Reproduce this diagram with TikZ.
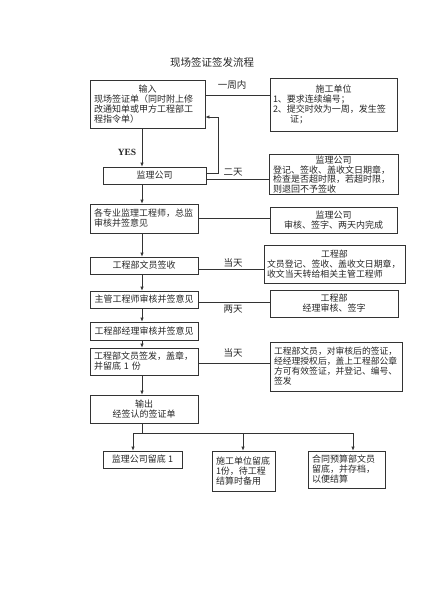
\documentclass[tikz,border=0pt]{standalone}
\usepackage{fontspec}
\setmainfont{Noto Sans CJK SC}
\newfontfamily\latinserif{Liberation Serif}
\usetikzlibrary{arrows.meta,calc}
\newcommand\ctr[1]{\hfill#1\hfill\null}
\begin{document}
\begin{tikzpicture}[x=1pt,y=-1pt,
 box/.style={draw=black!80,line width=.6pt,inner sep=2pt,font=\fontsize{9}{10}\selectfont,text=black!85},
 lbox/.style={box,inner xsep=4pt,align=left},
 arr/.style={-{Latex[length=4pt,width=3.2pt]},line width=.6pt,draw=black!80},
 ln/.style={line width=.6pt,draw=black!80},
 lab/.style={font=\fontsize{9.5}{11}\selectfont,text=black!85}]
\useasboundingbox (0,0) rectangle (424,600);

\node[font=\fontsize{10.5}{12}\selectfont,text=black!85] (title) at (212,62) {现场签证签发流程};

% left column
\node[lbox,minimum width=115pt,minimum height=48pt,text width=107pt] (in) at (147.5,104)
  {\ctr{输入}\\现场签证单（同时附上修\\改通知单或甲方工程部工\\程指令单）};
\node[box,minimum width=103pt,minimum height=17pt,align=center] (jl1) at (154.5,175.5) {监理公司};
\node[lbox,minimum width=108pt,minimum height=29pt,text width=100pt] (zj) at (144,218.5)
  {各专业监理工程师，总监\\审核并签意见};
\node[box,minimum width=108pt,minimum height=17pt,align=center] (wy) at (144,265.5) {工程部文员签收};
\node[box,minimum width=108pt,minimum height=17pt,align=center] (zg) at (144,299.5) {主管工程师审核并签意见};
\node[box,minimum width=108pt,minimum height=18pt,align=center] (jl) at (144,331) {工程部经理审核并签意见};
\node[lbox,minimum width=108pt,minimum height=27pt,text width=100pt] (qf) at (144,361.5)
  {工程部文员签发，盖章，\\并留底 1 份};
\node[box,minimum width=108pt,minimum height=28pt,align=center] (out) at (144,409) {输出\\经签认的签证单};

% right column
\node[lbox,inner xsep=3pt,minimum width=127pt,minimum height=53pt,text width=121pt] (sg) at (333.5,104.5)
  {\ctr{施工单位}\\1、要求连续编号；\\2、提交时效为一周，发生签\\\hspace*{1.9em}证；};
\node[lbox,minimum width=129pt,minimum height=39pt,text width=121pt,inner ysep=1.5pt,font=\fontsize{9}{9.4}\selectfont] (jl1r) at (333.5,174.5)
  {\ctr{监理公司}\\登记、签收、盖收文日期章，\\检查是否超时限，若超时限，\\则退回不予签收};
\node[box,minimum width=127pt,minimum height=26pt,align=center] (zjr) at (333.5,220)
  {监理公司\\审核、签字、两天内完成};
\node[lbox,inner xsep=3pt,minimum width=141pt,minimum height=38pt,text width=135pt,inner ysep=1.5pt,font=\fontsize{8.9}{10}\selectfont] (wyr) at (334.5,264)
  {\ctr{工程部}\\文员登记、签收、盖收文日期章，\\收文当天转给相关主管工程师};
\node[box,minimum width=128pt,minimum height=27pt,align=center] (zgr) at (334,303.5)
  {工程部\\经理审核、签字};
\node[lbox,minimum width=132pt,minimum height=49pt,text width=124pt,font=\fontsize{8.8}{10}\selectfont] (qfr) at (336,366.5)
  {工程部文员，对审核后的签证，\\经经理授权后，盖上工程部公章\\方可有效签证，并登记、编号、\\签发};

% bottom row
\node[box,minimum width=79pt,minimum height=17pt,align=center] (b1) at (142.5,459.5) {监理公司留底 1};
\node[lbox,minimum width=63pt,minimum height=40pt,text width=55pt] (b2) at (243.5,471)
  {施工单位留底\\1份，待工程\\结算时备用};
\node[lbox,minimum width=77pt,minimum height=37pt,text width=69pt] (b3) at (346.5,469.5)
  {合同预算部文员\\留底，并存档，\\以便结算};

% labels
\node[lab] (t1) at (232,85) {一周内};
\node[font=\latinserif\bfseries\fontsize{9.5}{11}\selectfont,text=black!85] (yes) at (127,152) {YES};
\node[lab] (t2) at (233,172) {二天};
\node[lab] (t3) at (233,263) {当天};
\node[lab] (t4) at (233,309) {两天};
\node[lab] (t5) at (233,353) {当天};

% helper coordinates
\coordinate (sp) at (142,0);
\coordinate (fx) at (218,0);
\coordinate (ya) at (0,95);
\coordinate (yb) at (0,117);
\coordinate (yc) at (0,173);
\coordinate (yd) at (0,179);
\coordinate (ye) at (0,269);
\coordinate (yf) at (0,302);
\coordinate (yg) at (0,363);
\coordinate (bus) at (142,433);
\coordinate (bl) at (133,433);
\coordinate (bm) at (243,433);
\coordinate (br) at (353,433);

% spine
\draw[arr] (in.south -| sp) -- (jl1.north -| sp);
\draw[arr] (jl1.south -| sp) -- (zj.north -| sp);
\draw[arr] (zj.south -| sp) -- (wy.north -| sp);
\draw[arr] (wy.south -| sp) -- (zg.north -| sp);
\draw[arr] (zg.south -| sp) -- (jl.north -| sp);
\draw[arr] (jl.south -| sp) -- (qf.north -| sp);
\draw[arr] (qf.south -| sp) -- (out.north -| sp);
\draw[ln] (out.south -| sp) -- (bus);
\draw[ln] (bl) -- (br);
\draw[arr] (bl) -- (b1.north -| bl);
\draw[arr] (bm) -- (b2.north -| bm);
\draw[arr] (br) -- (b3.north -| br);

% feedback
\draw[arr] (jl1.east |- yc) -- (fx |- yc) -- (fx |- yb) -- (in.east |- yb);

% horizontal links
\draw[ln] (in.east |- ya) -- (sg.west |- ya);
\draw[ln] (jl1.east |- yd) -- (jl1r.west |- yd);
\draw[ln] (zj.east) -- (zjr.west |- zj.east);
\draw[ln] (wy.east |- ye) -- (wyr.west |- ye);
\draw[ln] (zg.east |- yf) -- (zgr.west |- yf);
\draw[ln] (qf.east |- yg) -- (qfr.west |- yg);
\end{tikzpicture}
\end{document}
